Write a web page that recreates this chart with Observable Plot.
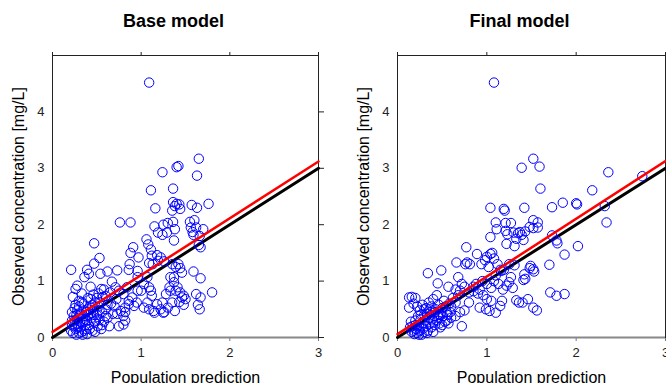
<!DOCTYPE html>
<html>
<head>
<meta charset="utf-8">
<script src="https://cdn.jsdelivr.net/npm/d3@7"></script>
<script src="https://cdn.jsdelivr.net/npm/@observablehq/plot@0.6"></script>
<style>
  html, body { margin: 0; padding: 0; background: #fff; }
  #wrap { display: flex; width: 666px; height: 383px; overflow: hidden; }
  #wrap svg { display: block; }
</style>
</head>
<body>
<div id="wrap"></div>
<script>
// ---------- data ----------
const panelTitles = ["Base model", "Final model"];
const xLabel = "Population prediction";
const yLabel = "Observed concentration [mg/L]";
const xTicks = [0, 1, 2, 3];
const yTicks = [0, 1, 2, 3, 4];
const lineX = [0, 3];              // extent of identity / fit lines
const baseFit = [0.10, 1.007];     // [intercept, slope] red regression line, base model
const finalFit = [0.06, 1.023];    // [intercept, slope] red regression line, final model

// [population prediction, observed concentration]
const basePoints = [
  [1.09,4.52],[1.65,3.17],[1.40,3.02],[1.42,3.04],[1.24,2.93],[1.63,2.87],[1.11,2.61],[1.36,2.64],[1.16,2.29],
  [1.36,2.40],[1.38,2.33],[1.35,2.25],[1.40,2.37],[1.44,2.28],[1.43,2.36],[1.57,2.35],[1.63,2.30],[1.76,2.37],
  [0.76,2.04],[0.88,2.04],
  [1.15,1.97],[1.25,2.00],[1.30,2.03],[1.36,2.05],[1.19,1.86],[1.24,1.82],[1.29,1.86],[1.38,1.92],[1.55,2.05],
  [1.60,2.08],[1.56,1.95],[1.62,1.95],[1.70,1.92],[1.59,1.82],[1.66,1.80],[1.58,1.87],[1.37,1.72],[1.67,1.60],[1.65,1.64],
  [0.47,1.67],[0.91,1.60],[0.88,1.50],[0.97,1.42],[0.87,1.30],
  [1.06,1.74],[1.08,1.65],[1.11,1.56],[1.12,1.45],[1.18,1.46],[1.22,1.42],[1.26,1.35],[1.19,1.36],[1.09,1.32],[1.13,1.30],
  [0.53,1.41],[0.47,1.31],[0.21,1.20],[0.39,1.20],[0.41,1.13],[0.62,1.17],[0.54,1.13],[0.73,1.19],[0.86,1.20],
  [0.36,1.07],[0.28,0.92],[0.26,0.86],[0.23,0.72],
  [0.43,0.90],[0.55,0.86],[0.60,0.74],[0.67,0.99],[0.71,0.89],[0.75,0.83],[0.80,0.77],[0.84,0.89],
  [0.96,1.18],[0.96,1.07],[1.00,0.83],[1.03,0.95],[0.96,0.83],[0.90,0.71],[1.07,1.07],[1.09,0.89],[1.11,0.83],
  [1.12,0.74],[1.07,0.62],[1.03,0.53],[1.09,0.50],[1.14,0.47],[1.18,0.59],[1.22,0.50],[1.24,0.62],[1.26,0.45],
  [1.30,0.53],[1.35,0.62],[1.43,0.63],[1.46,0.71],[1.41,0.89],[1.37,0.98],[1.33,1.07],[1.37,1.07],[1.39,1.25],
  [1.42,1.30],[1.44,1.23],[1.46,1.15],[1.35,1.30],[1.33,0.83],[1.39,0.83],[1.28,0.77],[1.32,0.89],[1.44,0.80],
  [1.48,0.74],[1.50,0.68],[1.59,1.17],[1.67,1.05],[1.62,0.77],[1.67,0.71],[1.64,0.58],[1.66,0.50],[1.80,0.80],
  [1.48,0.58],[1.38,0.47],[1.25,0.44],[1.15,0.44],
  [0.86,0.65],[0.95,0.62],[0.92,0.56],[0.86,0.59],[0.82,0.53],[0.77,0.47],[0.73,0.42],[0.80,0.38],[0.82,0.30],
  [0.80,0.23],[0.75,0.20],[0.82,0.45],
  [0.22,0.45],[0.24,0.38],[0.25,0.30],[0.22,0.22],[0.21,0.12],[0.23,0.08],[0.26,0.15],[0.27,0.05],[0.28,0.25],
  [0.29,0.35],[0.30,0.55],[0.31,0.42],[0.32,0.18],[0.33,0.10],[0.34,0.28],[0.35,0.60],[0.36,0.48],[0.37,0.32],
  [0.38,0.15],[0.39,0.06],[0.40,0.40],[0.41,0.22],[0.42,0.55],[0.43,0.68],[0.44,0.35],[0.45,0.12],[0.46,0.48],
  [0.47,0.28],[0.48,0.62],[0.50,0.40],[0.51,0.20],[0.52,0.55],[0.53,0.32],[0.55,0.15],[0.56,0.45],[0.58,0.28],
  [0.60,0.50],[0.62,0.35],[0.64,0.20],[0.66,0.60],[0.68,0.42],[0.30,0.08],[0.33,0.62],[0.28,0.48],[0.26,0.58],
  [0.24,0.20],[0.36,0.12],[0.40,0.50],[0.45,0.58],[0.50,0.70],[0.35,0.38],[0.38,0.45],[0.31,0.28],[0.27,0.40],
  [0.42,0.15],[0.48,0.10],[0.54,0.62],[0.57,0.72],[0.62,0.58],[0.70,0.55],[0.72,0.68],[0.65,0.80],[0.58,0.85],
  [0.52,0.78],[0.46,0.76],[0.40,0.70],[0.33,0.78],[0.30,0.65],[0.25,0.52],[0.22,0.30],[0.29,0.18],[0.34,0.05],
  [0.37,0.22],[0.43,0.42],[0.49,0.30],[0.56,0.22],[0.60,0.38],[0.53,0.48],[0.47,0.40],[0.39,0.30]
];

const finalPoints = [
  [1.08,4.52],[1.52,3.17],[1.39,3.01],[1.59,3.03],[2.36,2.93],[2.74,2.86],[1.60,2.64],[2.18,2.61],[1.04,2.30],
  [1.19,2.28],[1.20,2.25],[1.42,2.30],[1.73,2.31],[1.85,2.39],[2.00,2.38],[2.01,2.36],[2.32,2.33],[2.34,2.04],
  [1.10,2.04],[1.11,1.92],[1.21,2.03],[1.27,2.03],[1.21,1.89],[1.23,1.83],[1.30,1.86],[1.37,1.87],[1.39,1.82],
  [1.43,1.88],[1.48,1.96],[1.52,2.08],[1.57,2.04],[1.52,1.94],[1.57,1.95],[1.04,1.78],[1.22,1.66],[1.31,1.62],
  [1.41,1.73],[1.33,1.75],[1.35,1.85],
  [1.73,1.81],[1.78,1.72],[1.79,1.67],[2.02,1.62],[1.87,1.47],[1.70,1.29],
  [0.77,1.60],[0.66,1.33],[0.76,1.30],[0.78,1.33],[0.81,1.30],[0.89,1.48],[0.94,1.30],[0.98,1.37],[1.00,1.43],
  [1.04,1.48],[1.06,1.50],[1.02,1.25],[1.08,1.40],[1.12,1.30],[1.15,1.20],[1.10,1.10],[1.16,1.18],[1.19,1.20],
  [1.25,1.30],[1.31,1.28],[1.42,1.12],[1.48,1.23],[1.49,1.27],[1.52,1.21],[1.53,1.17],[1.43,1.04],[1.41,1.02],[1.27,1.07],
  [0.34,1.14],[0.49,1.19],[0.45,0.96],[0.57,0.90],[0.68,1.07],[0.70,0.83],[0.75,0.90],[0.72,0.95],[0.65,0.85],
  [0.80,0.80],[0.85,0.90],[0.88,0.95],[0.92,0.85],[0.95,1.00],[1.00,0.95],[1.05,0.88],[1.08,1.00],[1.13,0.95],
  [1.18,0.85],[1.22,0.92],[1.25,0.98],[1.29,0.88],
  [1.71,0.80],[1.78,0.74],[1.87,0.77],
  [1.33,0.66],[1.36,0.62],[1.40,0.62],[1.46,0.68],[1.52,0.53],[1.56,0.48],
  [0.92,0.53],[0.99,0.50],[1.03,0.47],[1.10,0.44],[1.15,0.56],[1.17,0.65],[1.05,0.65],[1.00,0.68],[0.96,0.75],
  [0.90,0.78],[0.85,0.82],[0.80,0.62],[0.75,0.48],[0.70,0.45],[0.65,0.38],[0.60,0.35],[0.55,0.30],[0.50,0.22],
  [0.48,0.18],[0.72,0.20],
  [0.13,0.71],[0.16,0.72],[0.20,0.70],[0.13,0.53],[0.18,0.60],[0.22,0.55],[0.25,0.48],[0.28,0.58],[0.30,0.40],
  [0.32,0.52],[0.35,0.62],[0.38,0.55],[0.40,0.68],[0.42,0.45],[0.44,0.75],[0.46,0.58],[0.48,0.40],[0.50,0.52],
  [0.52,0.65],[0.55,0.45],[0.58,0.60],[0.60,0.55],[0.62,0.70],[0.65,0.62],[0.68,0.75],[0.15,0.28],[0.17,0.20],
  [0.18,0.12],[0.19,0.06],[0.20,0.30],[0.21,0.15],[0.22,0.08],[0.23,0.38],[0.24,0.22],[0.25,0.12],[0.26,0.32],
  [0.27,0.05],[0.28,0.25],[0.29,0.16],[0.30,0.10],[0.31,0.30],[0.32,0.20],[0.33,0.42],[0.34,0.12],[0.35,0.35],
  [0.36,0.25],[0.37,0.45],[0.38,0.18],[0.39,0.32],[0.40,0.28],[0.41,0.38],[0.42,0.22],[0.43,0.50],[0.44,0.30],
  [0.45,0.40],[0.46,0.35],[0.47,0.25],[0.49,0.45],[0.51,0.38],[0.53,0.28],[0.54,0.55],[0.56,0.40],[0.57,0.25],
  [0.59,0.45],[0.14,0.18],[0.16,0.10],[0.20,0.22],[0.24,0.05],[0.26,0.40],[0.30,0.50],[0.33,0.08],[0.36,0.50],[0.40,0.10]
];

// ---------- drawing ----------
const FONT = "'Liberation Sans', Arial, Helvetica, sans-serif";

function panel(points, fit, title, ml, mr) {
  const identity = lineX.map(x => ({x, y: x}));
  const fitLine = lineX.map(x => ({x, y: fit[0] + fit[1] * x}));
  return Plot.plot({
    width: 333, height: 383,
    marginLeft: ml, marginRight: mr, marginTop: 55, marginBottom: 46,
    style: {fontFamily: FONT, fontSize: "13px", color: "#222", background: "#fff", overflow: "visible"},
    x: {domain: [0, 3]},
    y: {domain: [0, 5]},
    marks: [
      Plot.axisX({anchor: "top", ticks: xTicks, tickSize: 4, tickFormat: () => "", label: null, stroke: "#222"}),
      Plot.axisY({anchor: "right", ticks: yTicks, tickSize: 5, tickFormat: () => "", label: null, stroke: "#222"}),
      Plot.axisX({anchor: "bottom", ticks: xTicks, tickSize: 4, tickPadding: 6, tickFormat: d => String(d), label: null, stroke: "#777", fontSize: 13}),
      Plot.axisY({anchor: "left", ticks: yTicks, tickSize: 0, tickPadding: 8, tickFormat: d => String(d), label: null, fontSize: 13}),
      Plot.frame({stroke: "#222", strokeWidth: 1}),
      Plot.ruleY([0], {stroke: "#888", strokeWidth: 2}),
      Plot.line(identity, {x: "x", y: "y", stroke: "black", strokeWidth: 3}),
      Plot.dot(points, {x: d => d[0], y: d => d[1], r: 4.7, stroke: "blue", strokeWidth: 1, fill: "none"}),
      Plot.line(fitLine, {x: "x", y: "y", stroke: "red", strokeWidth: 2.5}),
      Plot.text([title], {frameAnchor: "top", lineAnchor: "middle", textAnchor: "middle", dx: -12, dy: -34, fontSize: 18, fontWeight: "bold", fill: "black"}),
      Plot.text([xLabel], {frameAnchor: "bottom", lineAnchor: "middle", textAnchor: "middle", dy: 40, fontSize: 16, fill: "black"}),
      Plot.text([yLabel], {frameAnchor: "left", lineAnchor: "middle", textAnchor: "middle", dx: -34, rotate: -90, fontSize: 16, fill: "black"})
    ]
  });
}

const wrap = document.getElementById("wrap");
wrap.append(panel(basePoints, baseFit, panelTitles[0], 52, 15));
wrap.append(panel(finalPoints, finalFit, panelTitles[1], 64, 1));
</script>
</body>
</html>
